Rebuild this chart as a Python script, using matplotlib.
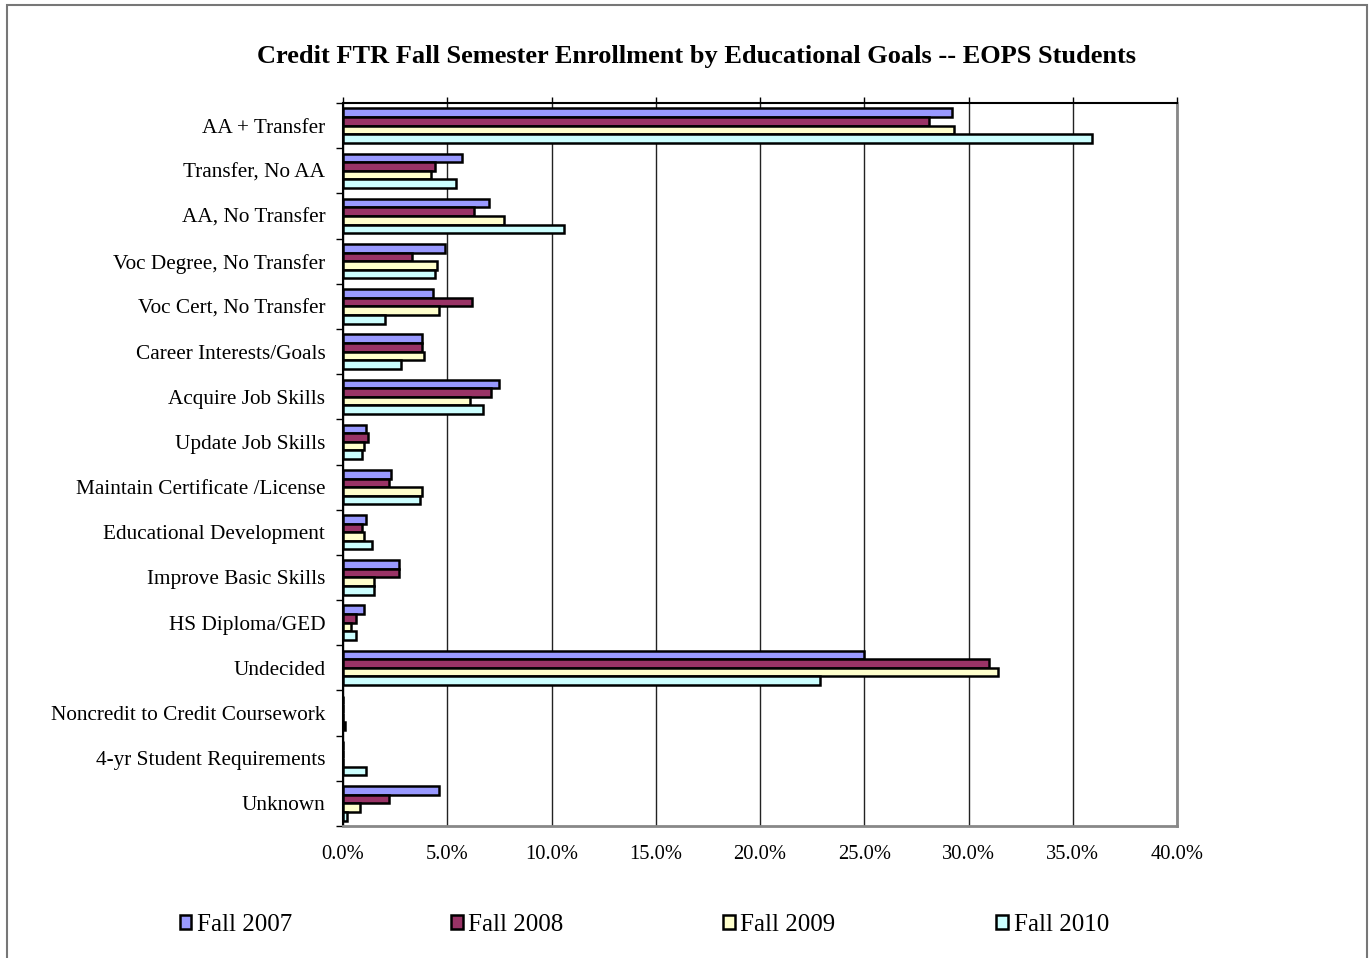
import matplotlib
matplotlib.use("Agg")
import matplotlib.pyplot as plt
import numpy as np
from matplotlib.patches import Rectangle
from matplotlib.ticker import FuncFormatter, MultipleLocator

plt.rcParams['font.family'] = ['Liberation Serif', 'DejaVu Serif']

categories = [
    "AA + Transfer", "Transfer, No AA", "AA, No Transfer", "Voc Degree, No Transfer",
    "Voc Cert, No Transfer", "Career Interests/Goals", "Acquire Job Skills",
    "Update Job Skills", "Maintain Certificate /License", "Educational Development",
    "Improve Basic Skills", "HS Diploma/GED", "Undecided",
    "Noncredit to Credit Coursework", "4-yr Student Requirements", "Unknown",
]
series_names = ["Fall 2007", "Fall 2008", "Fall 2009", "Fall 2010"]
fall_2007 = [29.2, 5.7, 7.0, 4.9, 4.3, 3.8, 7.5, 1.1, 2.3, 1.1, 2.7, 1.0, 25.0, 0.0, 0.0, 4.6]
fall_2008 = [28.1, 4.4, 6.3, 3.3, 6.2, 3.8, 7.1, 1.2, 2.2, 0.9, 2.7, 0.6, 31.0, 0.0, 0.0, 2.2]
fall_2009 = [29.3, 4.2, 7.7, 4.5, 4.6, 3.9, 6.1, 1.0, 3.8, 1.0, 1.5, 0.4, 31.4, 0.0, 0.0, 0.8]
fall_2010 = [35.9, 5.4, 10.6, 4.4, 2.0, 2.8, 6.7, 0.9, 3.7, 1.4, 1.5, 0.6, 22.9, 0.1, 1.1, 0.2]
series_values = [fall_2007, fall_2008, fall_2009, fall_2010]
colors = ["#9999FF", "#993366", "#FFFFCC", "#CCFFFF"]
title = "Credit FTR Fall Semester Enrollment by Educational Goals -- EOPS Students"

W, H = 1371, 958
fig = plt.figure(figsize=(W / 100, H / 100), dpi=100)
ax = fig.add_axes([343 / W, 1 - 826 / H, (1177 - 343) / W, (826 - 103) / H])

n = len(categories)
y = np.arange(n)
bh = 0.19
bars = []
for i, (vals, c) in enumerate(zip(series_values, colors)):
    b = ax.barh(y + (i - 1.5) * bh, vals, height=bh, color=c, edgecolor="black",
                linewidth=1.8, label=series_names[i], zorder=3)
    bars.append(b)

ax.set_xlim(0, 40)
ax.set_ylim(n - 0.5, -0.5)
ax.xaxis.set_major_locator(MultipleLocator(5))
ax.xaxis.set_major_formatter(FuncFormatter(lambda v, p: f"{v:.1f}%"))
ax.grid(axis="x", color="#222222", linewidth=1.0, zorder=0)
ax.tick_params(axis="x", top=True, bottom=False, labeltop=False, labelbottom=True,
               direction="out", length=4, width=1, labelsize=14.8, pad=10)

ax.set_yticks(y)
ax.set_yticklabels(categories)
ax.set_yticks(np.arange(n + 1) - 0.5, minor=True)
ax.tick_params(axis="y", which="major", length=0, pad=12.7, labelsize=15.3)
ax.tick_params(axis="y", which="minor", length=5, width=1, direction="out")

for s in ["top", "left"]:
    ax.spines[s].set_color("black")
    ax.spines[s].set_linewidth(1.5)
for s in ["right", "bottom"]:
    ax.spines[s].set_color("#888888")
    ax.spines[s].set_linewidth(2)

fig.text(697 / W, 1 - 56 / H, title, ha="center", va="center",
         fontsize=19, fontweight="bold")

leg_x = [180, 451, 723, 996]
for b, name, lx in zip(bars, series_names, leg_x):
    fig.legend([b], [name], loc="center left", bbox_to_anchor=(lx / W, 1 - 925 / H),
               frameon=False, fontsize=18, handlelength=0.46, handleheight=0.46,
               handletextpad=0.24, borderpad=0, borderaxespad=0)

fig.patches.append(Rectangle((7 / W, -0.02), (1367 - 7) / W, 1 - 5 / H + 0.02,
                             transform=fig.transFigure, fill=False,
                             edgecolor="#777777", linewidth=1.5))

fig.savefig("out.png", dpi=100)
